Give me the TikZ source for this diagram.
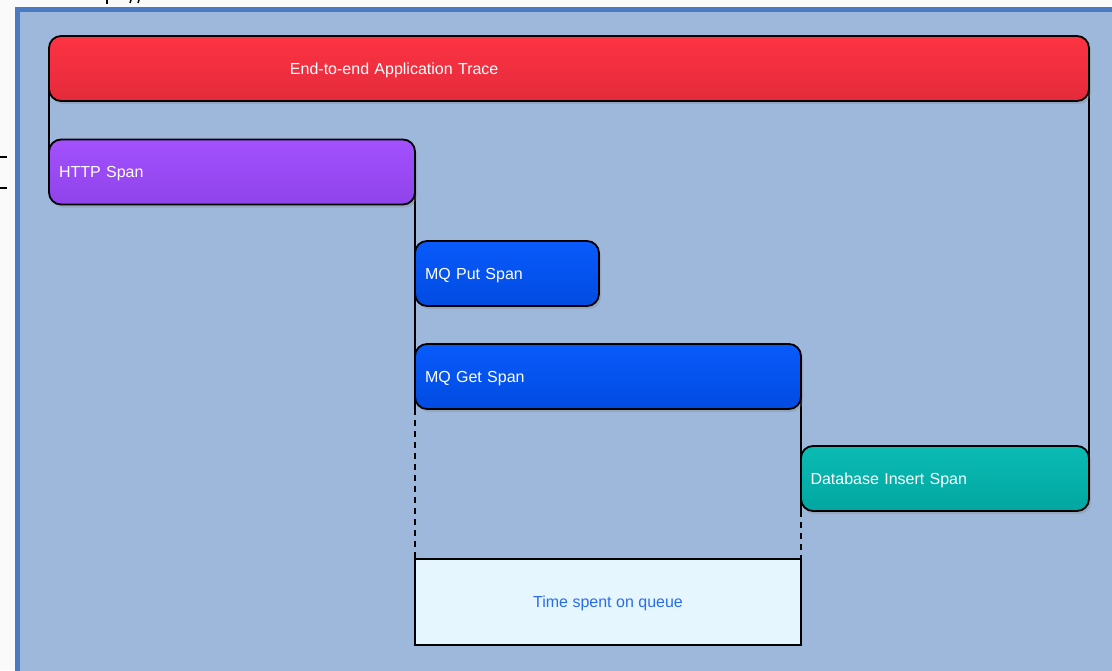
\documentclass[tikz,border=0pt]{standalone}
\usepackage{fontspec}
\setmainfont{Liberation Sans}
\usetikzlibrary{shadows}

\definecolor{pagebg}{HTML}{FAFAFA}
\definecolor{framefill}{HTML}{9EB8DC}
\definecolor{frameline}{HTML}{4A7BC2}
\definecolor{queuefill}{HTML}{E5F6FE}
\definecolor{queuetext}{HTML}{2A6DE8}

% glossy vertical shadings (bottom -> top)
\pgfdeclareverticalshading{glossred}{100bp}{
  color(0bp)=(rgb,255:red,214;green,40;blue,56);
  color(20bp)=(rgb,255:red,225;green,42;blue,58);
  color(80bp)=(rgb,255:red,255;green,52;blue,68);
  color(92bp)=(rgb,255:red,255;green,96;blue,110);
  color(100bp)=(rgb,255:red,255;green,70;blue,84)}
\pgfdeclareverticalshading{glosspurple}{100bp}{
  color(0bp)=(rgb,255:red,132;green,60;blue,220);
  color(20bp)=(rgb,255:red,142;green,66;blue,232);
  color(80bp)=(rgb,255:red,164;green,82;blue,255);
  color(92bp)=(rgb,255:red,196;green,132;blue,255);
  color(100bp)=(rgb,255:red,176;green,100;blue,255)}
\pgfdeclareverticalshading{glossblue}{100bp}{
  color(0bp)=(rgb,255:red,0;green,66;blue,204);
  color(20bp)=(rgb,255:red,0;green,74;blue,222);
  color(80bp)=(rgb,255:red,10;green,92;blue,255);
  color(92bp)=(rgb,255:red,50;green,128;blue,255);
  color(100bp)=(rgb,255:red,24;green,104;blue,255)}
\pgfdeclareverticalshading{glossteal}{100bp}{
  color(0bp)=(rgb,255:red,0;green,150;blue,144);
  color(20bp)=(rgb,255:red,0;green,164;blue,158);
  color(80bp)=(rgb,255:red,12;green,190;blue,182);
  color(92bp)=(rgb,255:red,60;green,226;blue,218);
  color(100bp)=(rgb,255:red,30;green,206;blue,198)}

\pgfdeclarelayer{back}
\pgfdeclarelayer{mid}
\pgfsetlayers{back,mid,main}

\tikzset{
  spanbox/.style={rectangle, rounded corners=12pt, draw=black, line width=1.8pt,
    anchor=north west, outer sep=0pt, inner xsep=10pt, inner ysep=0pt,
    minimum height=65pt, text height=11.5pt, text depth=0pt,
    align=left, text=white, font=\fontsize{16}{19}\selectfont,
    drop shadow={opacity=0.3, shadow xshift=2pt, shadow yshift=-3pt}},
  link/.style={draw=black, line width=1.6pt},
  gaplink/.style={draw=black, line width=1.8pt, dash pattern=on 6pt off 5pt},
  queuebox/.style={rectangle, draw=black, line width=2pt, fill=queuefill,
    anchor=north west, outer sep=0pt, inner sep=0pt, text=queuetext,
    text height=11.5pt, text depth=0pt,
    font=\fontsize{16}{19}\selectfont},
  tick/.style={draw=black, line width=2pt}
}

\begin{document}
\begin{tikzpicture}[x=1pt,y=-1pt]
\useasboundingbox (0,0) rectangle (1112,670);
\clip (0,0) rectangle (1112,670);

\begin{pgfonlayer}{back}
  \fill[pagebg] (0,0) rectangle (1112,670);
  \draw[frameline, line width=5pt, fill=framefill] (17,9.5) rectangle (1160,720);
  % clipped marks left over from surrounding elements
  \draw[tick] (0,156.5) -- (7,156.5);
  \draw[tick] (0,187.5) -- (7,187.5);
  \draw[tick, line width=2.5pt] (107,0) -- (107,4);
  \draw[tick, line width=1.5pt] (131,0) -- (130,3);
  \draw[tick, line width=1.5pt] (139,0) -- (138,3);
\end{pgfonlayer}

% spans
\node[spanbox, shading=glossred, minimum width=1040pt, text width=1020pt]
  (trace) at (49,36) {\hspace*{231pt}End-to-end Application Trace};
\node[spanbox, shading=glosspurple, minimum width=366pt, text width=346pt]
  (http) at (49,139.5) {HTTP Span};
\node[spanbox, shading=glossblue, minimum width=184pt, text width=164pt]
  (put) at (415,241) {MQ Put Span};
\node[spanbox, shading=glossblue, minimum width=386pt, text width=366pt]
  (get) at (415,344) {MQ Get Span};
\node[spanbox, shading=glossteal, minimum width=288pt, text width=269pt, inner xsep=9.5pt]
  (db) at (801,446) {Database Insert Span};
\node[queuebox, minimum width=386pt, minimum height=85.4pt]
  (queue) at (415,559.3) {Time spent on queue};

% connectors
\begin{pgfonlayer}{mid}
  \draw[link] (trace.west) -- (http.west);
  \draw[link] (trace.east) -- (db.east);
  \draw[link] (http.east) -- (http.east |- get.south);
  \draw[link] (get.east) -- (get.east |- db.south);
  \draw[gaplink] (get.south west) -- (get.south west |- queue.north);
  \draw[gaplink] (db.south west) -- (db.south west |- queue.north);
\end{pgfonlayer}
\end{tikzpicture}
\end{document}
